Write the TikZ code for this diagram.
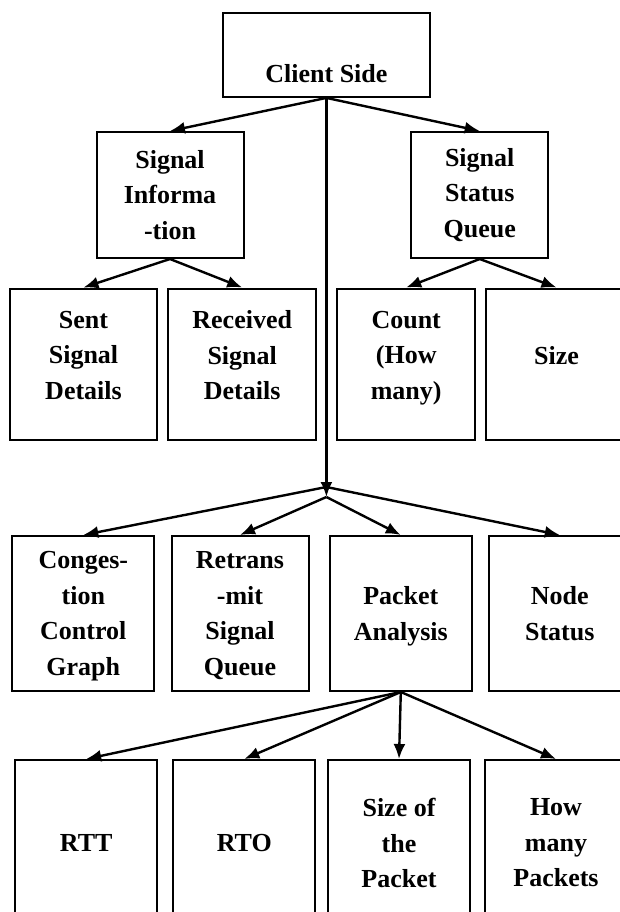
\documentclass[tikz,border=0pt]{standalone}
\usepackage{fontspec}
\setmainfont{Liberation Serif}
\usetikzlibrary{arrows.meta,positioning}
\tikzstyle{block} = [draw, rectangle, line width=2pt, align=center, inner sep=2pt, font=\fontsize{26}{35.5}\selectfont\bfseries]
\tikzstyle{branch} = [block, minimum height=126pt]
\tikzstyle{detail} = [block, minimum width=142pt, minimum height=151pt, text depth=18pt]
\tikzstyle{part} = [block, minimum width=142pt, minimum height=155pt, text depth=-15pt]
\tikzstyle{metric} = [block, minimum width=142pt, minimum height=166pt]

\begin{document}
\begin{tikzpicture}[auto, >={Latex[length=15pt,width=12pt]}, line width=2.4pt, x=1pt, y=1pt]
    \useasboundingbox (0,0) rectangle (619,-912);
    \node [block, minimum width=207pt, minimum height=84pt, text height=68pt, text depth=12pt] (client) at (326.4,-54.9) {Client Side};
    \node [branch, minimum width=147pt] (info) at (170,-195) {Signal\\Informa\\-tion};
    \node [branch, minimum width=137pt, right of=info, node distance=309.7pt] (status) {Signal\\Status\\Queue};
    % first row
    \node [detail, minimum width=147pt] (sent) at (83.5,-364) {Sent\\Signal\\Details};
    \node [detail, minimum width=148pt, right of=sent, node distance=158.7pt] (recv) {Received\\Signal\\Details};
    \node [detail, minimum width=138pt, right of=recv, node distance=164pt] (count) {Count\\(How\\many)};
    \node [detail, right of=count, node distance=150.3pt] (size) {Size};
    % second row
    \node [part] (cong) at (83.3,-613.5) {Conges-\\tion\\Control\\Graph};
    \node [part, minimum width=137pt, right of=cong, node distance=156.7pt] (retx) {Retrans\\-mit\\Signal\\Queue};
    \node [part, right of=retx, node distance=160.8pt] (pkt) {Packet\\Analysis};
    \node [part, right of=pkt, node distance=159pt] (nstat) {Node\\Status};
    % third row
    \node [metric] (rtt) at (86.2,-843) {RTT};
    \node [metric, right of=rtt, node distance=158.1pt] (rto) {RTO};
    \node [metric, right of=rto, node distance=154.7pt] (psize) {Size of\\the\\Packet};
    \node [metric, right of=psize, node distance=157pt] (pnum) {How\\many\\Packets};
    \coordinate (fork) at (326.4,-487);
    \coordinate (hub) at (326.4,-497);
    \draw [->] (client.south) -- (info.north);
    \draw [->] (client.south) -- (status.north);
    \draw [->] (client.south) -- (hub);
    \draw [->] (info.south) -- (sent.north);
    \draw [->] (info.south) -- (recv.north);
    \draw [->] (status.south) -- (count.north);
    \draw [->] (status.south) -- (size.north);
    \draw [->] (fork) -- (cong.north);
    \draw [->] (hub) -- (retx.north);
    \draw [->] (hub) -- (pkt.north);
    \draw [->] (fork) -- (nstat.north);
    \foreach \leaf in {rtt,rto,psize,pnum}
        \draw [->] (pkt.south) -- (\leaf.north);
\end{tikzpicture}
\end{document}
